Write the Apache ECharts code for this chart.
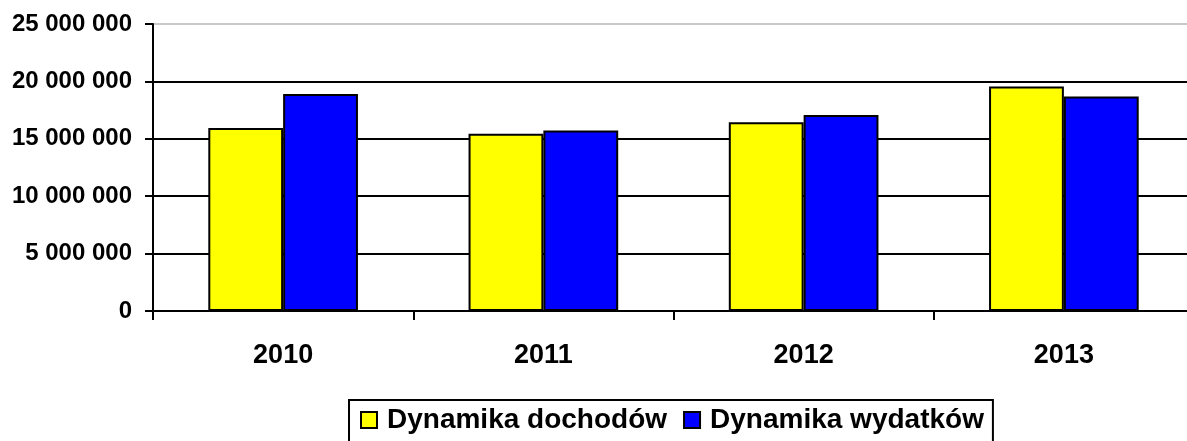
<!DOCTYPE html>
<html><head><meta charset="utf-8">
<script src="https://cdn.jsdelivr.net/npm/echarts@6/dist/echarts.min.js"></script>
<style>html,body{margin:0;padding:0;background:#fff;overflow:hidden;width:1187px;height:441px}#c{width:1194px;height:441px}</style>
</head><body><div id="c"></div>
<script>
const categories = ['2010', '2011', '2012', '2013'];
const dochody = [15950000, 15450000, 16450000, 19550000];
const wydatki = [18900000, 15720000, 17080000, 18680000];
const seriesNames = ['Dynamika dochodów', 'Dynamika wydatków'];
const yTicks = [0, 5000000, 10000000, 15000000, 20000000, 25000000];

const FONT = '"Liberation Sans", Arial, sans-serif';
const chart = echarts.init(document.getElementById('c'), null, {renderer: 'canvas'});
chart.setOption({
  animation: false,
  backgroundColor: '#fff',
  grid: {left: 153, right: 0, top: 24, bottom: 130, containLabel: false},
  xAxis: {
    type: 'category', data: categories,
    axisLine: {lineStyle: {color: '#000', width: 2}},
    axisTick: {show: true, length: 9, lineStyle: {color: '#000', width: 2}},
    axisLabel: {color: '#000', fontFamily: FONT, fontWeight: 'bold', fontSize: 27, margin: 31}
  },
  yAxis: {
    type: 'value', min: yTicks[0], max: yTicks[yTicks.length - 1], interval: 5000000,
    axisLine: {show: true, lineStyle: {color: '#000', width: 2}},
    axisTick: {show: true, length: 8, lineStyle: {color: '#000', width: 2}},
    splitLine: {show: true, lineStyle: {color: ['#000', '#000', '#000', '#000', '#000', '#c8c8c8'], width: 2}},
    axisLabel: {
      color: '#000', fontFamily: FONT, fontWeight: 'bold', fontSize: 24, margin: 21,
      formatter: v => String(v).replace(/\B(?=(\d{3})+(?!\d))/g, ' ')
    }
  },
  legend: {
    left: 349, top: 400,
    data: seriesNames,
    borderColor: '#000', borderWidth: 2,
    padding: [6, 9, 30, 11],
    itemGap: 16, itemWidth: 16, itemHeight: 16,
    icon: 'rect',
    textStyle: {color: '#000', fontFamily: FONT, fontWeight: 'bold', fontSize: 28, padding: [4, 0, 0, 5]}
  },
  series: [
    {name: seriesNames[0], type: 'bar', data: dochody, barGap: '0%', barCategoryGap: '42.5%',
     itemStyle: {color: '#ffff00', borderColor: '#000', borderWidth: 2}},
    {name: seriesNames[1], type: 'bar', data: wydatki, barGap: '0%', barCategoryGap: '42.5%',
     itemStyle: {color: '#0000ff', borderColor: '#000', borderWidth: 2}}
  ]
});
</script></body></html>
